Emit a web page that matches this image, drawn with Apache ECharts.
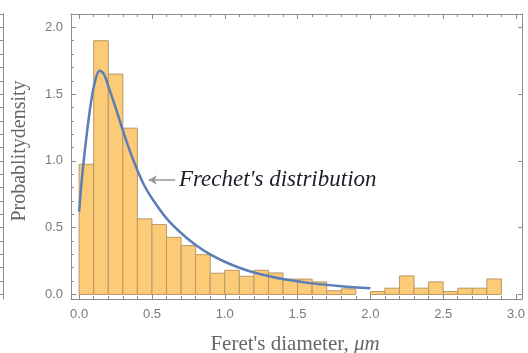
<!DOCTYPE html>
<html><head><meta charset="utf-8">
<script src="https://cdn.jsdelivr.net/npm/echarts@6/dist/echarts.min.js"></script>
<style>html,body{margin:0;padding:0;background:#fff}#c{width:528px;height:353px}</style>
</head><body><div id="c"></div>
<script>
// ---- data ----
const binStarts = [0.0,0.1,0.2,0.3,0.4,0.5,0.6,0.7,0.8,0.9,1.0,1.1,1.2,1.3,1.4,1.5,1.6,1.7,1.8,1.9,2.0,2.1,2.2,2.3,2.4,2.5,2.6,2.7,2.8];
const binHeights = [0.975,1.90,1.65,1.245,0.566,0.523,0.428,0.366,0.298,0.159,0.181,0.136,0.181,0.161,0.115,0.115,0.094,0.028,0.042,0,0.022,0.047,0.139,0.047,0.094,0.022,0.047,0.047,0.116];
const binWidth = 0.1;
const curveX = [0.00,0.02,0.05,0.08,0.11,0.14,0.17,0.20,0.25,0.30,0.35,0.40,0.45,0.50,0.60,0.70,0.80,0.90,1.00,1.10,1.20,1.40,1.60,1.80,2.00];
const curveY = [0.62,0.88,1.18,1.43,1.60,1.675,1.65,1.56,1.40,1.23,1.07,0.93,0.81,0.72,0.57,0.46,0.37,0.30,0.245,0.20,0.165,0.115,0.083,0.062,0.047];
const xTickValues = [0,0.5,1,1.5,2,2.5,3];
const xTickLabels = ['0.0','0.5','1.0','1.5','2.0','2.5','3.0'];
const yTickValues = [0,0.5,1,1.5,2];
const yTickLabels = ['0.0','0.5','1.0','1.5','2.0'];
const xMinorTicks = [0,0.1,0.2,0.3,0.4,0.5,0.6,0.7,0.8,0.9,1.0,1.1,1.2,1.3,1.4,1.5,1.6,1.7,1.8,1.9,2.0,2.1,2.2,2.3,2.4,2.5,2.6,2.7,2.8,2.9,3.0];
const yMinorTicks = [0,0.1,0.2,0.3,0.4,0.5,0.6,0.7,0.8,0.9,1.0,1.1,1.2,1.3,1.4,1.5,1.6,1.7,1.8,1.9,2.0,2.1];
const xTitle = "Feret's diameter, ";
const xTitleUnit = "\u03BCm";
const yTitle = "Probablitydensity";
const annotText = "Frechet's distribution";
const annotArrowFrom = [0.66, 0.857];
const annotArrowTo = [0.478, 0.857];
const annotTextAt = [0.685, 0.857];

const XMIN = -0.056, XMAX = 3.041, YMIN = -0.034, YMAX = 2.1;
const frameColor = '#8c8c8c';
const labelColor = '#7a7a7a';

function lab(vals, labels){ return function(v){ for (let i=0;i<vals.length;i++){ if (Math.abs(vals[i]-v)<1e-6) return labels[i]; } return ''; }; }

function xAx(pos, ticks, len, showLabel, showLine){
  return {type:'value', gridIndex:0, position:pos, min:XMIN, max:XMAX,
    axisLine:{show:showLine, onZero:false, lineStyle:{color:frameColor, width:1}},
    axisTick:{show:true, inside:true, length:len, customValues:ticks, lineStyle:{color:frameColor, width:1}},
    axisLabel:{show:showLabel, customValues:xTickValues, formatter:lab(xTickValues,xTickLabels), color:labelColor, fontFamily:'Liberation Sans', fontSize:13, margin:9},
    splitLine:{show:false}};
}
function yAx(pos, ticks, len, showLabel, showLine, extra){
  const o = {type:'value', gridIndex:0, position:pos, min:YMIN, max:YMAX,
    axisLine:{show:showLine, onZero:false, lineStyle:{color:frameColor, width:1}},
    axisTick:{show:true, inside:true, length:len, customValues:ticks, lineStyle:{color:frameColor, width:1}},
    axisLabel:{show:showLabel, customValues:yTickValues, formatter:lab(yTickValues,yTickLabels), color:labelColor, fontFamily:'Liberation Sans', fontSize:13, margin:8},
    splitLine:{show:false}};
  return Object.assign(o, extra||{});
}

const chart = echarts.init(document.getElementById('c'), null, {renderer:'canvas'});
const histData = binStarts.map((s,i)=>[s, binHeights[i]]);
const curveData = curveX.map((x,i)=>[x, curveY[i]]);

chart.setOption({
  animation:false,
  backgroundColor:'#ffffff',
  grid:{left:71, right:-2, top:14, bottom:54, containLabel:false},
  xAxis:[
    xAx('bottom', xTickValues, 5, true, true),
    xAx('bottom', xMinorTicks, 3, false, false),
    xAx('top', xTickValues, 5, false, true),
    xAx('top', xMinorTicks, 3, false, false)
  ],
  yAxis:[
    yAx('left', yTickValues, 5, true, true),
    yAx('left', yMinorTicks, 3, false, false),
    yAx('right', yTickValues, 4, false, true),
    yAx('left', yMinorTicks, 4, false, true, {offset:67.5, axisTick:{show:true, inside:false, length:4, customValues:yMinorTicks, lineStyle:{color:frameColor,width:1}}})
  ],
  series:[
    {type:'custom', xAxisIndex:0, yAxisIndex:0, data:histData, z:2,
     renderItem:function(params, api){
       const s = api.value(0), h = api.value(1);
       if (!(h>0)) return null;
       const p0 = api.coord([s, 0]);
       const p1 = api.coord([s+binWidth, h]);
       return {type:'rect', shape:{x:p0[0], y:p1[1], width:p1[0]-p0[0], height:p0[1]-p1[1]},
         style:{fill:'#FCCB78', stroke:'#B89864', lineWidth:1}};
     }},
    {type:'line', xAxisIndex:0, yAxisIndex:0, data:curveData, smooth:0.35, showSymbol:false, z:3,
     lineStyle:{color:'#5B7EB6', width:2.5},
     markLine:{silent:true, animation:false, label:{show:false},
       lineStyle:{color:'#999999', width:1.5, type:'solid'},
       data:[[{coord:annotArrowFrom, symbol:'none'},{coord:annotArrowTo, symbol:'arrow', symbolSize:[7,8]}]]}}
  ]
});

const tp = chart.convertToPixel({xAxisIndex:0, yAxisIndex:0}, annotTextAt);
chart.setOption({
  graphic:[
    {type:'text', x:tp[0], y:tp[1], style:{text:annotText, font:'italic 23px "Liberation Serif"', fill:'#1e1e2a', textAlign:'left', textVerticalAlign:'middle'}},
    {type:'text', x:20, y:151, rotation:Math.PI/2, style:{text:yTitle, font:'20px "Liberation Serif"', fill:'#666666', textAlign:'center', textVerticalAlign:'middle'}},
    {type:'group', x:295, y:344, children:[
      {type:'text', style:{rich:{a:{font:'21px "Liberation Serif"', fill:'#666666'}, b:{font:'italic 21px "Liberation Serif"', fill:'#666666'}}, text:'{a|'+xTitle+'}{b|'+xTitleUnit+'}', textAlign:'center', textVerticalAlign:'middle'}}
    ]}
  ]
});
</script></body></html>
